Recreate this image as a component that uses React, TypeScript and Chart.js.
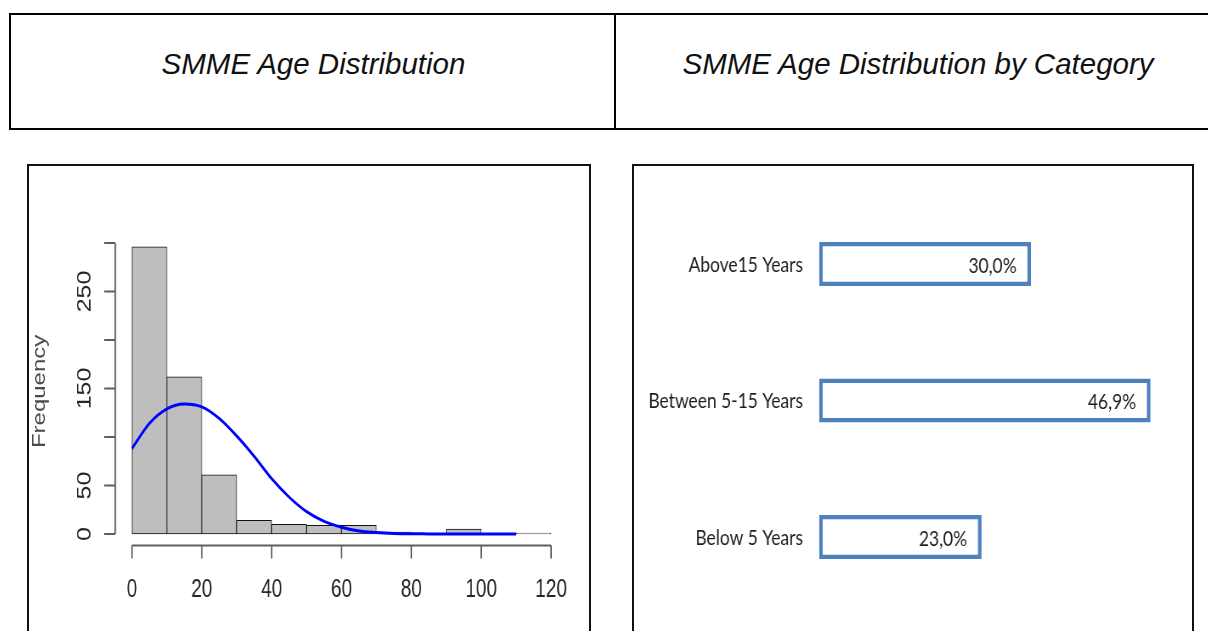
import React, { useEffect, useRef } from "react";
import { Chart, registerables } from "chart.js";

Chart.register(...registerables);

// ---------- Histogram data (left) ----------
const binEdges = [0, 10, 20, 30, 40, 50, 60, 70, 80, 90, 100, 110, 120];
const binCounts = [296, 162, 61, 14, 10, 9, 9, 2, 0, 5, 0, 1];
const curveX = [0, 5, 10, 15, 20, 25, 30, 35, 40, 45, 50, 55, 60, 65, 70, 75, 80, 85, 90, 95, 100, 105, 110];
const curveY = [88, 114, 129, 134, 131, 119, 101, 80, 57, 38, 23, 13, 7, 3, 1.5, 0.6, 0.2, 0.1, 0, 0, 0, 0, 0];
const xTicks = [0, 20, 40, 60, 80, 100, 120];
const yTicks = [0, 50, 100, 150, 200, 250, 300];
const yTickLabels = ["0", "50", "", "150", "", "250", ""];
const xRange = [-4.8, 124.8];
const yRange = [-11.76, 305.76];
const yTitle = "Frequency";

// ---------- Category data (right) ----------
const categories = ["Above15 Years", "Between 5-15 Years", "Below 5 Years"];
const shares = [30.0, 46.9, 23.0];
const shareRange = [0, 50];

const titles = ["SMME Age Distribution", "SMME Age Distribution by Category"];

const LEFT_SX = 0.76;
const RIGHT_SX = 0.85;

function Histogram() {
  const ref = useRef<HTMLCanvasElement>(null);
  useEffect(() => {
    if (!ref.current) return;
    const axesPlugin = {
      id: "rAxes",
      afterDraw(chart: any) {
        const { ctx, chartArea } = chart;
        const xs = chart.scales.x;
        const ys = chart.scales.y;
        ctx.save();
        ctx.strokeStyle = "#5e5e5e";
        ctx.lineWidth = 2;
        const ax = chartArea.left;
        ctx.beginPath();
        ctx.moveTo(ax, ys.getPixelForValue(yTicks[0]));
        ctx.lineTo(ax, ys.getPixelForValue(yTicks[yTicks.length - 1]));
        yTicks.forEach((v) => {
          const py = ys.getPixelForValue(v);
          ctx.moveTo(ax, py);
          ctx.lineTo(ax - 14.5, py);
        });
        ctx.stroke();
        const ay = chartArea.bottom;
        ctx.beginPath();
        ctx.moveTo(xs.getPixelForValue(xTicks[0]), ay);
        ctx.lineTo(xs.getPixelForValue(xTicks[xTicks.length - 1]), ay);
        xTicks.forEach((v) => {
          const px = xs.getPixelForValue(v);
          ctx.moveTo(px, ay);
          ctx.lineTo(px, ay + 13);
        });
        ctx.stroke();

        ctx.fillStyle = "#262626";
        ctx.font = '25px "Liberation Sans", Arial, sans-serif';
        ctx.textAlign = "center";
        ctx.textBaseline = "middle";
        xTicks.forEach((v) => {
          ctx.fillText(String(v), xs.getPixelForValue(v), ay + 45);
        });
        yTicks.forEach((v, i) => {
          if (!yTickLabels[i]) return;
          ctx.save();
          ctx.translate(73.7, ys.getPixelForValue(v));
          ctx.rotate(-Math.PI / 2);
          ctx.fillText(yTickLabels[i], 0, 0);
          ctx.restore();
        });
        ctx.fillStyle = "#4a4a4a";
        ctx.font = '24px "Liberation Sans", Arial, sans-serif';
        ctx.save();
        ctx.translate(14.5, (chartArea.top + chartArea.bottom) / 2);
        ctx.rotate(-Math.PI / 2);
        ctx.fillText(yTitle, 0, 0);
        ctx.restore();
        ctx.restore();
      },
    };
    const bars = binCounts.map((c, i) => ({ x: (binEdges[i] + binEdges[i + 1]) / 2, y: c }));
    const curve = curveX.map((x, i) => ({ x, y: curveY[i] }));
    const chart = new Chart(ref.current, {
      type: "bar",
      data: {
        datasets: [
          {
            type: "line",
            data: curve,
            borderColor: "#0000ff",
            borderWidth: 3,
            pointRadius: 0,
            fill: false,
            cubicInterpolationMode: "monotone",
            order: 0,
          } as any,
          {
            type: "bar",
            data: bars,
            backgroundColor: "#bebebe",
            borderColor: "#111",
            borderWidth: 1,
            borderSkipped: false,
            barPercentage: 1,
            categoryPercentage: 1,
            order: 1,
          } as any,
        ],
      },
      options: {
        responsive: false,
        animation: false,
        layout: { padding: { left: 113.4, right: 28, top: 71.4, bottom: 85.6 } },
        scales: {
          x: {
            type: "linear",
            display: false,
            min: xRange[0],
            max: xRange[1],
            offset: false,
            ticks: { stepSize: 10, includeBounds: false },
          },
          y: { type: "linear", display: false, min: yRange[0], max: yRange[1] },
        },
        plugins: { legend: { display: false }, tooltip: { enabled: false } },
      },
      plugins: [axesPlugin],
    } as any);
    return () => chart.destroy();
  }, []);
  return (
    <canvas
      ref={ref}
      width={737}
      height={465}
      style={{ display: "block", transform: `scaleX(${LEFT_SX})`, transformOrigin: "0 0" }}
    />
  );
}

function CategoryBars() {
  const ref = useRef<HTMLCanvasElement>(null);
  useEffect(() => {
    if (!ref.current) return;
    const labelPlugin = {
      id: "catLabels",
      afterDatasetsDraw(chart: any) {
        const { ctx, chartArea } = chart;
        const xs = chart.scales.x;
        const ys = chart.scales.y;
        ctx.save();
        ctx.fillStyle = "#1e1e1e";
        ctx.textAlign = "right";
        ctx.textBaseline = "middle";
        ctx.font = '20.5px Lato, "Liberation Sans", sans-serif';
        categories.forEach((c, i) => {
          ctx.fillText(c, chartArea.left - 18.8, ys.getPixelForValue(i) + 1);
        });
        ctx.font = '20.5px Lato, "Liberation Sans", sans-serif';
        shares.forEach((v, i) => {
          const txt = v.toFixed(1).replace(".", ",") + "%";
          ctx.fillText(txt, xs.getPixelForValue(v) - 17, ys.getPixelForValue(i) + 2);
        });
        ctx.restore();
      },
    };
    const chart = new Chart(ref.current, {
      type: "bar",
      data: {
        labels: categories,
        datasets: [
          {
            data: shares,
            backgroundColor: "#ffffff",
            borderColor: "#4f81bd",
            borderWidth: 4.5,
            borderSkipped: false,
            barPercentage: 0.322,
            categoryPercentage: 1,
          },
        ],
      },
      options: {
        indexAxis: "y",
        responsive: false,
        animation: false,
        layout: { padding: { left: 217.6, right: 22.5, top: 29.75, bottom: 25.75 } },
        scales: {
          x: { display: false, min: shareRange[0], max: shareRange[1] },
          y: { display: false },
        },
        plugins: { legend: { display: false }, tooltip: { enabled: false } },
      },
      plugins: [labelPlugin],
    } as any);
    return () => chart.destroy();
  }, []);
  return (
    <canvas
      ref={ref}
      width={656}
      height={465}
      style={{ display: "block", transform: `scaleX(${RIGHT_SX})`, transformOrigin: "0 0" }}
    />
  );
}

export default function App() {
  const titleStyle: React.CSSProperties = {
    position: "absolute",
    top: 47,
    fontFamily: '"Liberation Sans", Arial, sans-serif',
    fontStyle: "italic",
    fontSize: 29.5,
    color: "#111",
    textAlign: "center",
    whiteSpace: "nowrap",
  };
  return (
    <div
      style={{
        position: "absolute",
        left: 0,
        top: 0,
        width: 1208,
        height: 631,
        overflow: "hidden",
        background: "#fff",
      }}
    >
      <div
        style={{
          position: "absolute",
          left: 9,
          top: 13,
          width: 1212,
          height: 117,
          border: "2px solid #000",
          boxSizing: "border-box",
        }}
      />
      <div style={{ position: "absolute", left: 614, top: 13, width: 2, height: 117, background: "#000" }} />
      <div style={{ ...titleStyle, left: 12, width: 603 }}>{titles[0]}</div>
      <div style={{ ...titleStyle, left: 617, width: 602 }}>{titles[1]}</div>

      <div
        style={{
          position: "absolute",
          left: 27,
          top: 164,
          width: 564,
          height: 500,
          border: "2px solid #111",
          boxSizing: "border-box",
        }}
      />
      <div style={{ position: "absolute", left: 29, top: 166, width: 560, height: 465, overflow: "hidden" }}>
        <Histogram />
      </div>

      <div
        style={{
          position: "absolute",
          left: 632,
          top: 164,
          width: 562,
          height: 500,
          border: "2px solid #111",
          boxSizing: "border-box",
        }}
      />
      <div style={{ position: "absolute", left: 634, top: 166, width: 558, height: 465, overflow: "hidden" }}>
        <CategoryBars />
      </div>
    </div>
  );
}
